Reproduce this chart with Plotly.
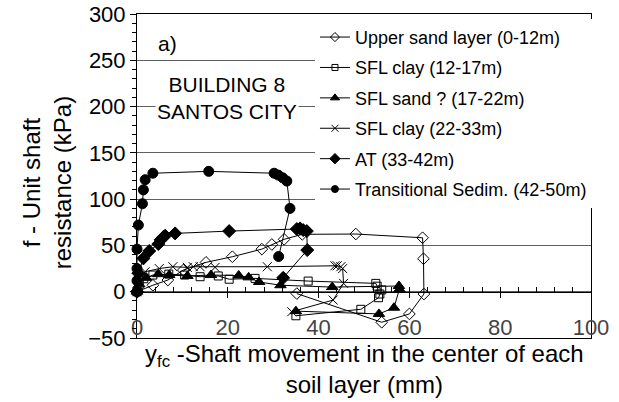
import plotly.graph_objects as go

# ---- data ----
upper_x = [0, 3.5, 6.8, 10.2, 15.2, 21, 27.5, 29.7, 32.4, 36.4, 48.2, 62.9, 63.1, 63.2, 60, 53.9, 35.2]
upper_y = [0, 7, 12.6, 23.4, 31.7, 37.8, 46, 51, 56.6, 62, 62.3, 58.3, 35.6, -2.5, -24, -33, -2]

clay1_x = [0, 0.5, 1.5, 3.5, 7, 10.5, 13.9, 17.9, 20.3, 26, 37.7, 52.6, 52.9, 53.9, 53.5, 53.2, 49.3, 35]
clay1_y = [0, 8, 14, 18, 19, 18, 16.2, 17, 13.5, 14.4, 11.5, 9, 6, 2, -2.5, -6.5, -19, -26]

sand_x = [0, 0.5, 2, 4.7, 7.1, 11.1, 16.3, 22.4, 24.6, 26.9, 31.6, 43, 57.7, 57.8, 56.6, 53.3, 35]
sand_y = [0, 8, 15, 19, 18, 17, 18, 17.5, 15.5, 10.5, 7, 5, 6.2, 2.6, -17.3, -24, -21]

clay2_x = [0, 0.5, 1.8, 4.9, 7.9, 11.1, 12.4, 13.9, 17.2, 28.7, 43.6, 44.1, 44.9, 45.3, 45.5, 43.2, 34.1]
clay2_y = [0, 10, 21.6, 25, 27, 26.3, 27, 27, 26.3, 27, 28, 28, 27, 25, 9, -9, -21.6]

at_x = [0, 0.3, 1.4, 2.7, 4.7, 5.2, 5.8, 6.2, 8.4, 20.3, 35.2, 35.9, 36.6, 37.4, 37.5, 32.2]
at_y = [0, 20, 36, 44, 51.5, 56, 59, 60.5, 63, 65.5, 67.7, 68.4, 66.6, 65.5, 45, 15]

trans_x = [0, 0, 0, 0, 0.3, 1.2, 1.4, 1.8, 3.5, 15.8, 30.2, 31.1, 32.1, 33, 33.7, 31.2]
trans_y = [0, 12, 25, 46, 72, 95, 110, 121, 128, 130, 128, 126, 123, 119.5, 90, 38]

names = ["Upper sand layer (0-12m)", "SFL clay (12-17m)", "SFL sand ? (17-22m)",
         "SFL clay (22-33m)", "AT (33-42m)", "Transitional Sedim. (42-50m)"]
xticks = [0, 20, 40, 60, 80, 100]
yticks = [-50, 0, 50, 100, 150, 200, 250, 300]

FONT = "Liberation Sans, Arial, sans-serif"

series = [
    (upper_x, upper_y, dict(symbol="diamond-open", size=9), 7),
    (clay1_x, clay1_y, dict(symbol="square-open", size=8), 6),
    (sand_x, sand_y, dict(symbol="triangle-up", size=10), 8),
    (clay2_x, clay2_y, dict(symbol="x-thin-open", size=9), 7),
    (at_x, at_y, dict(symbol="diamond", size=10), 8),
    (trans_x, trans_y, dict(symbol="circle", size=10), 7),
]

fig = go.Figure()
for i, ((xs, ys, mk, lsize), nm) in enumerate(zip(series, names)):
    mk = dict(mk, color="black", line=dict(width=1, color="black"))
    fig.add_trace(go.Scatter(
        x=xs, y=ys, name=nm, mode="lines+markers",
        line=dict(color="black", width=1), marker=mk,
        cliponaxis=False, showlegend=False))
    # legend entry with the smaller legend symbol
    fig.add_trace(go.Scatter(
        x=[None], y=[None], name=nm, mode="lines+markers",
        line=dict(color="black", width=1), marker=dict(mk, size=lsize),
        legendgroup=f"g{i}", hoverinfo="skip"))

# dummy traces for the axis drawn at y = 0
fig.add_trace(go.Scatter(x=[None], y=[None], xaxis="x2", showlegend=False, hoverinfo="skip"))
fig.add_trace(go.Scatter(x=[None], y=[None], xaxis="x3", showlegend=False, hoverinfo="skip"))

ymin, ymax = yticks[0], yticks[-1]
pos0 = (0 - ymin) / (ymax - ymin)

fig.update_layout(
    width=619, height=402,
    margin=dict(l=137, r=28, t=14, b=64),
    paper_bgcolor="white", plot_bgcolor="white",
    font=dict(family=FONT, color="black", size=18),
    showlegend=True,
    legend=dict(x=0.392, y=0.985, xanchor="left", yanchor="top",
                bgcolor="white", borderwidth=0, font=dict(size=18),
                tracegroupgap=4),
    xaxis=dict(range=[xticks[0], xticks[-1]], tickvals=xticks, showline=True, mirror=True,
               linecolor="black", linewidth=1, ticks="", showgrid=False, zeroline=False,
               ticklabelposition="inside", ticklabeloverflow="allow",
               tickfont=dict(size=22), automargin=False),
    xaxis2=dict(overlaying="x", anchor="free", position=pos0, range=[xticks[0], xticks[-1]],
                tickvals=xticks, showline=True, linecolor="black", linewidth=1,
                ticks="inside", ticklen=5, tickcolor="black",
                minor=dict(dtick=4, tick0=0, ticks="inside", ticklen=5, tickcolor="black", showgrid=False),
                showticklabels=False, showgrid=False, zeroline=False, automargin=False),
    xaxis3=dict(overlaying="x", anchor="free", position=pos0, range=[xticks[0], xticks[-1]],
                tickvals=xticks, showline=False,
                ticks="outside", ticklen=5, tickcolor="black",
                showticklabels=False, showgrid=False, zeroline=False, automargin=False),
    yaxis=dict(range=[ymin, ymax], tickvals=yticks, showline=True, mirror=True,
               linecolor="black", linewidth=1, ticks="outside", ticklen=6, tickcolor="black",
               minor=dict(dtick=10, tick0=0, ticks="outside", ticklen=4, tickcolor="black", showgrid=False),
               showgrid=True, gridcolor="#606060", gridwidth=1, zeroline=False,
               tickfont=dict(size=22), automargin=False),
    annotations=[
        dict(text="a)", x=6.8, y=268, xref="x", yref="y", showarrow=False,
             font=dict(size=21)),
        dict(text="BUILDING 8<br>SANTOS CITY", x=19.8, y=209, xref="x", yref="y",
             showarrow=False, bgcolor="white", font=dict(size=21)),
        dict(text="y<sub>fc</sub> -Shaft movement in the center of each<br>soil layer (mm)",
             x=0.5, y=-0.096, xref="paper", yref="paper", xanchor="center", yanchor="middle",
             showarrow=False, font=dict(size=24)),
        dict(text="f - Unit shaft<br>resistance (kPa)", textangle=-90,
             x=-0.198, y=0.478, xref="paper", yref="paper", xanchor="center", yanchor="middle",
             showarrow=False, font=dict(size=24)),
    ],
)

fig.write_html("out.html")
